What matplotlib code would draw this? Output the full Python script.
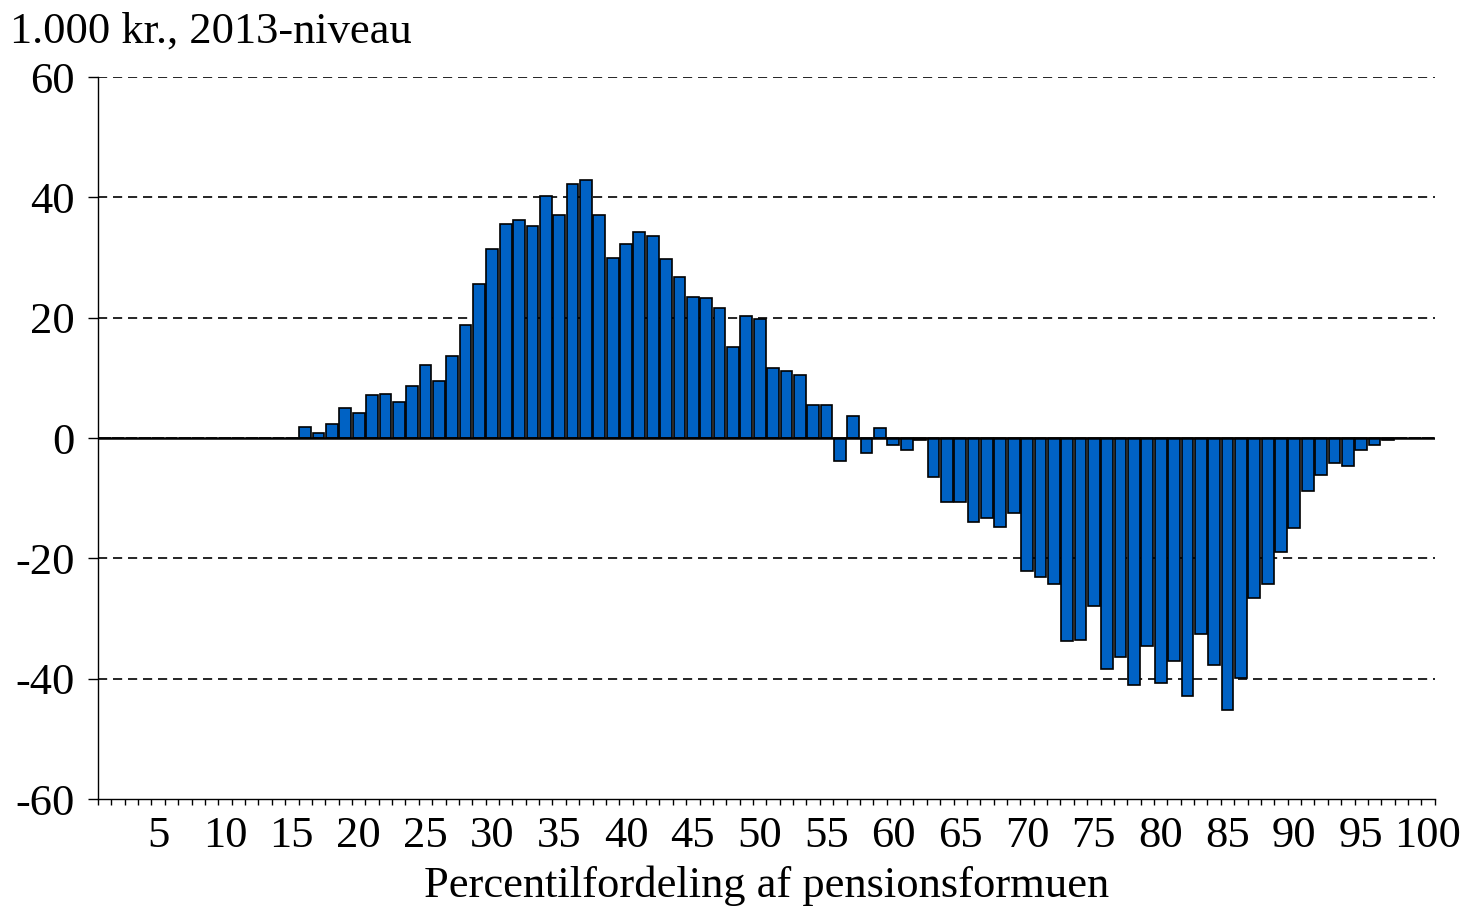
import numpy as np
import matplotlib
matplotlib.use("Agg")
import matplotlib.pyplot as plt

# Percentile 1..100 of pension wealth, change in 1,000 kr. (2013 level)
percentiles = list(range(1, 101))
values = [
    0, 0, 0, 0, 0, 0, 0, 0, 0, 0,
    0, 0, 0, 0, 0, 1.8, 0.9, 2.3, 5.0, 4.2,
    7.1, 7.4, 6.0, 8.7, 12.1, 9.5, 13.7, 18.8, 25.6, 31.5,
    35.5, 36.3, 35.2, 40.3, 37.1, 42.2, 42.9, 37.1, 29.9, 32.3,
    34.2, 33.6, 29.7, 26.7, 23.5, 23.3, 21.7, 15.2, 20.3, 19.8,
    11.6, 11.1, 10.5, 5.5, 5.5, -3.8, 3.7, -2.5, 1.6, -1.1,
    -1.9, -0.3, -6.5, -10.7, -10.7, -13.9, -13.3, -14.7, -12.5, -22.1,
    -23.1, -24.2, -33.8, -33.5, -27.9, -38.3, -36.4, -41.0, -34.6, -40.7,
    -37.0, -42.8, -32.5, -37.7, -45.2, -39.8, -26.6, -24.2, -18.9, -14.9,
    -8.8, -6.2, -4.2, -4.6, -1.9, -1.1, -0.3, 0, 0, 0,
]
xtick_labels = [str(v) for v in range(5, 101, 5)]
yticks = [-60, -40, -20, 0, 20, 40, 60]

plt.rcParams["font.family"] = ["Liberation Serif", "DejaVu Serif"]

fig = plt.figure(figsize=(14.67, 9.07), dpi=100)
ax = fig.add_axes([0.0668, 0.119, 0.9112, 0.796])

x = np.array(percentiles) - 0.5
ax.bar(x, values, width=0.88, color="#0062C4", edgecolor="black",
       linewidth=1.2, zorder=3)

ax.set_xlim(0, 100)
ax.set_ylim(-60, 60)

for y in [-40, -20, 20, 40, 60]:
    ax.axhline(y, color="black", linestyle=(0, (5.5, 3.5)), linewidth=1.2, zorder=1)
ax.axhline(0, color="black", linewidth=1.8, zorder=4)

ax.set_yticks(yticks)
ax.set_yticklabels([str(v) for v in yticks])
ax.tick_params(axis="y", direction="out", length=7, width=1, labelsize=32, pad=10)

ax.set_xticks(np.arange(5, 101, 5) - 0.5)
ax.set_xticklabels(xtick_labels)
ax.set_xticks(np.arange(0, 101, 1), minor=True)
ax.tick_params(axis="x", which="major", length=0, labelsize=32, pad=12)
ax.tick_params(axis="x", which="minor", direction="out", length=4, width=1)

for side in ["top", "right"]:
    ax.spines[side].set_visible(False)
for side in ["left", "bottom"]:
    ax.spines[side].set_linewidth(1.0)

ax.set_xlabel("Percentilfordeling af pensionsformuen", fontsize=32, labelpad=7)
fig.text(0.007, 0.965, "1.000 kr., 2013-niveau", fontsize=32, ha="left", va="center")

fig.savefig("out.png", dpi=100)
plt.close(fig)
